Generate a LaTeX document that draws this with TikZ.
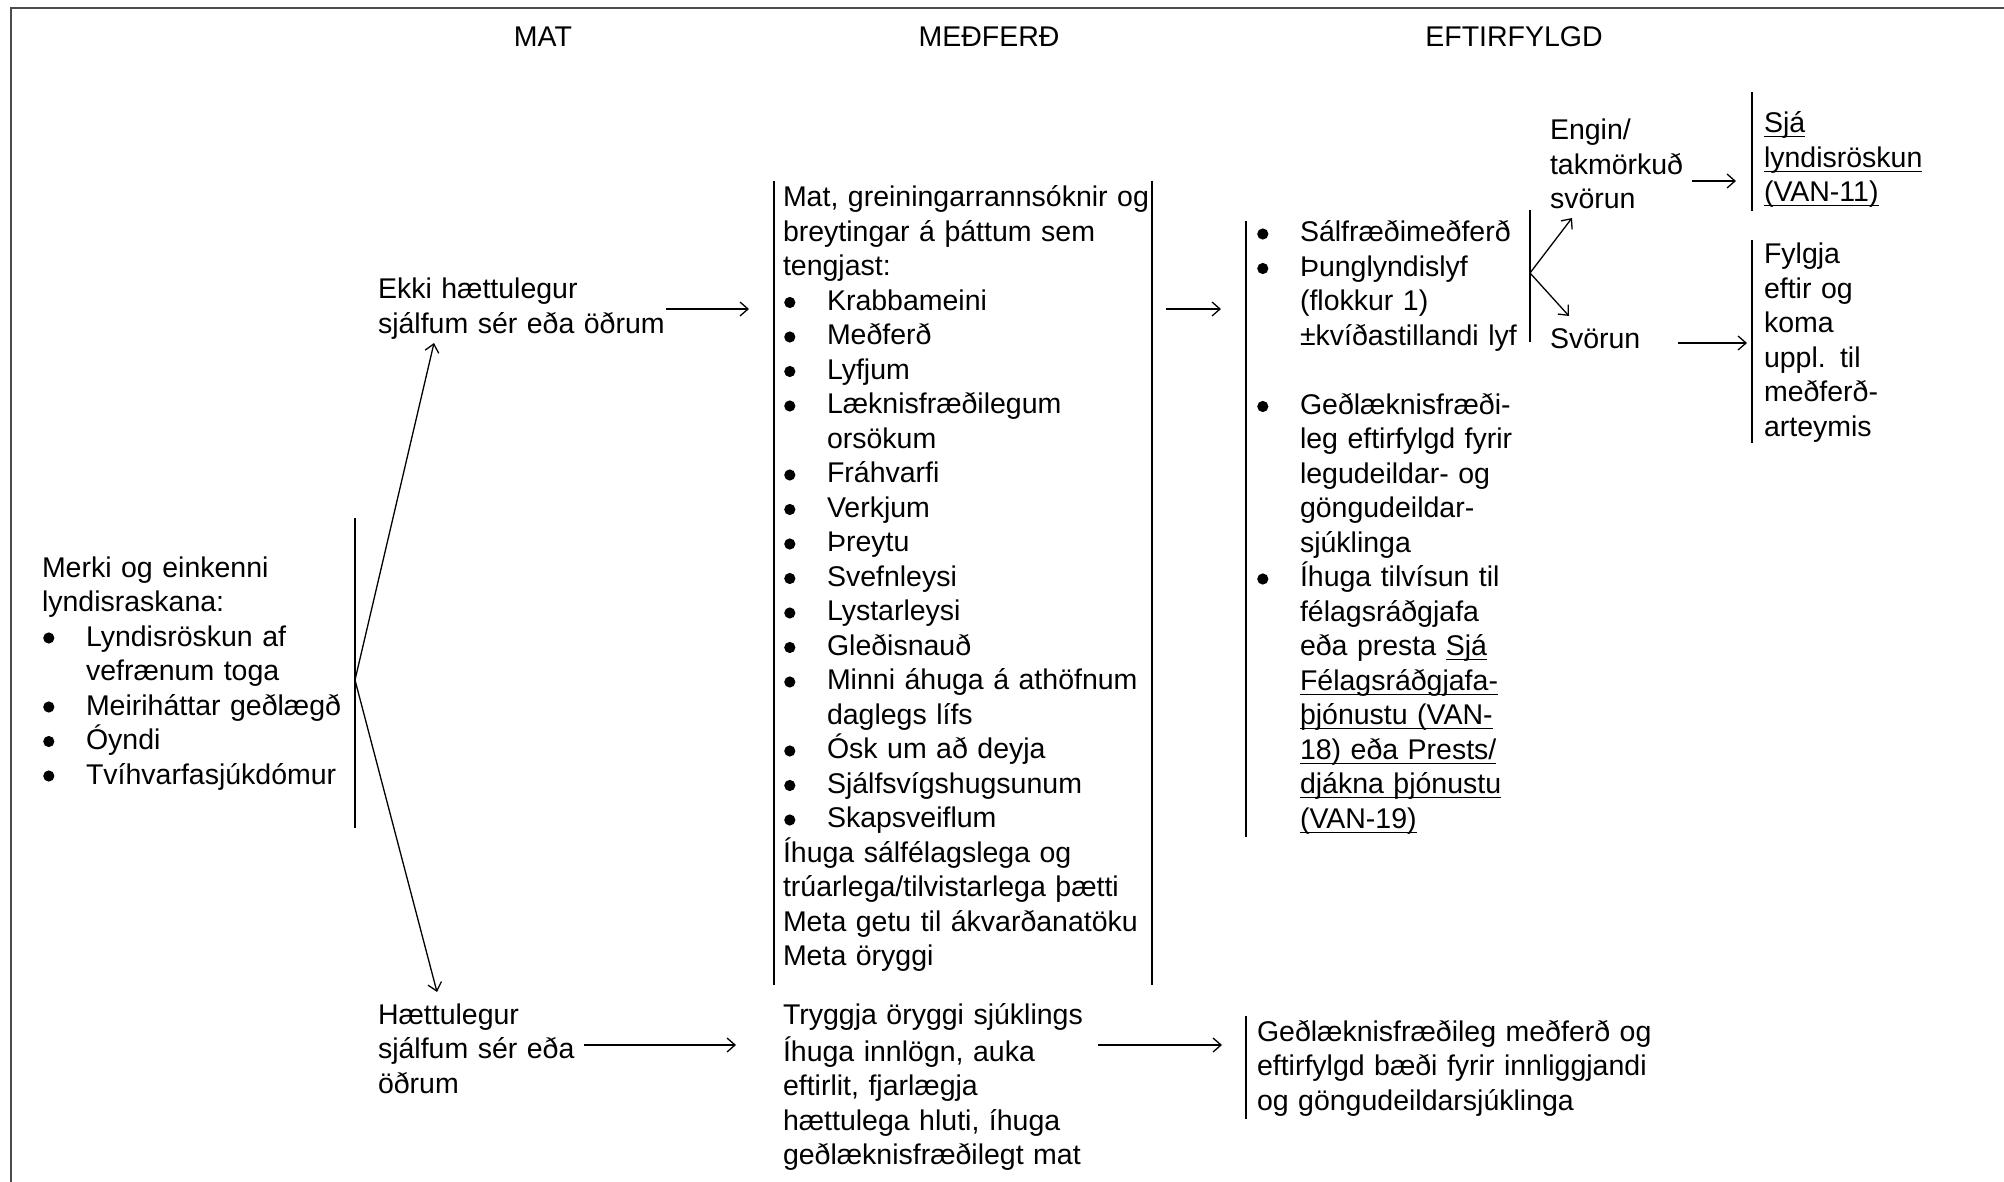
\documentclass[tikz,border=0pt]{standalone}
\usepackage{fontspec}
\setmainfont{Liberation Sans}
\usetikzlibrary{arrows.meta}
% round list bullet, drawn at a fixed size and height
\newcommand\bdot{\tikz[baseline=0pt]{\useasboundingbox (0pt,0pt) rectangle (6pt,0pt);
  \fill (3.4pt,4pt) circle[radius=2.8pt];}}
% bullet item with hanging indent, and its continuation line
\newcommand\bitem[1]{\makebox[22pt][l]{\bdot}#1}
\newcommand\bcont[1]{\hspace*{22pt}#1}
% underlined link text, rule at a fixed depth below the baseline
\newsavebox\ulbox
\newcommand\uln[1]{\leavevmode\sbox\ulbox{#1}\rlap{\rule[-2.2pt]{\wd\ulbox}{0.65pt}}\usebox\ulbox}
\begin{document}
\begin{tikzpicture}[x=0.5pt,y=-0.5pt,
  font=\fontsize{14.25pt}{17.25pt}\selectfont,
  blk/.style={anchor=north west,inner sep=0pt,outer sep=0pt,align=left,
    text width=230pt,yshift=12.075pt,execute at begin node={\noindent\strut}},
  hdr/.style={anchor=base,inner sep=0pt},
  bar/.style={line width=0.75pt},
  frame/.style={line width=1pt,black!70},
  arr/.style={line width=0.65pt,-{Straight Barb[length=4pt,width=7pt]}},
]
\useasboundingbox (0,0) rectangle (2004,1182);

% page frame
\draw[frame] (11,1182) -- (11,8) -- (2004,8);

% column headings
\node[hdr] (hmat) at (543,47) {MAT};
\node[hdr] (hmed) at (989,47) {MEÐFERÐ};
\node[hdr] (heft) at (1514,47) {EFTIRFYLGD};

% assessment
\node[blk] (merki) at (42,577) {Merki og einkenni\\
lyndisraskana:\\
\bitem{Lyndisröskun af}\\
\bcont{vefrænum toga}\\
\bitem{Meiriháttar geðlægð}\\
\bitem{Óyndi}\\
\bitem{Tvíhvarfasjúkdómur}};
\draw[bar] (355,518) -- (355,828);

\node[blk] (ekki) at (378,299) {Ekki hættulegur\\ sjálfum sér eða öðrum};
\node[blk] (haett) at (378,1024) {Hættulegur\\ sjálfum sér eða\\ öðrum};

% treatment
\node[blk] (medA) at (783,207) {Mat, greiningarrannsóknir og\\
breytingar á þáttum sem\\
tengjast:\\
\bitem{Krabbameini}\\
\bitem{Meðferð}\\
\bitem{Lyfjum}\\
\bitem{Læknisfræðilegum}\\
\bcont{orsökum}\\
\bitem{Fráhvarfi}\\
\bitem{Verkjum}\\
\bitem{Þreytu}\\
\bitem{Svefnleysi}\\
\bitem{Lystarleysi}\\
\bitem{Gleðisnauð}\\
\bitem{Minni áhuga á athöfnum}\\
\bcont{daglegs lífs}\\
\bitem{Ósk um að deyja}\\
\bitem{Sjálfsvígshugsunum}\\
\bitem{Skapsveiflum}\\
Íhuga sálfélagslega og\\
trúarlega/tilvistarlega þætti\\
Meta getu til ákvarðanatöku\\
Meta öryggi};
\draw[bar] (774,181) -- (774,985);
\draw[bar] (1152,181) -- (1152,985);

\node[blk] (medB) at (783,1024) {Tryggja öryggi sjúklings\\
Íhuga innlögn, auka\\
eftirlit, fjarlægja\\
hættulega hluti, íhuga\\
geðlæknisfræðilegt mat};

% follow-up
\node[blk] (eftA) at (1256,242) {\bitem{Sálfræðimeðferð}\\
\bitem{Þunglyndislyf}\\
\bcont{(flokkur 1)}\\
\bcont{±kvíðastillandi lyf}\\[17.25pt]
\bitem{Geðlæknisfræði-}\\
\bcont{leg eftirfylgd fyrir}\\
\bcont{legudeildar- og}\\
\bcont{göngudeildar-}\\
\bcont{sjúklinga}\\
\bitem{Íhuga tilvísun til}\\
\bcont{félagsráðgjafa}\\
\bcont{eða presta \uln{Sjá}}\\
\bcont{\uln{Félagsráðgjafa-}}\\
\bcont{\uln{þjónustu (VAN-}}\\
\bcont{\uln{18) eða Prests/}}\\
\bcont{\uln{djákna þjónustu}}\\
\bcont{\uln{(VAN-19)}}};
\draw[bar] (1246,221) -- (1246,837);
\draw[bar] (1530,210) -- (1530,342);

\node[blk] (engin) at (1550,140) {Engin/\\ takmörkuð\\ svörun};
\node[blk] (svor) at (1550,349) {Svörun};

\node[blk] (sja) at (1764,133) {\uln{Sjá}\\ \uln{lyndisröskun}\\ \uln{(VAN-11)}};
\draw[bar] (1752,92) -- (1752,211);
\node[blk] (fylg) at (1764,264) {Fylgja\\ eftir og\\ koma\\ uppl. til\\ meðferð-\\ arteymis};
\draw[bar] (1752,240) -- (1752,443);

\node[blk] (eftB) at (1257,1041) {Geðlæknisfræðileg meðferð og\\
eftirfylgd bæði fyrir innliggjandi\\
og göngudeildarsjúklinga};
\draw[bar] (1246,1016) -- (1246,1119);

% connector end points
\coordinate (merki-v) at (355,680);
\coordinate (ekki-in) at (434,343);
\coordinate (haett-in) at (437,992);
\coordinate (ekki-out) at (666,309);
\coordinate (medA-in) at (749,309);
\coordinate (medA-out) at (1166,309);
\coordinate (eftA-in) at (1221,309);
\coordinate (eftA-v) at (1530,273);
\coordinate (engin-in) at (1572,218);
\coordinate (svor-in) at (1569,316);
\coordinate (engin-out) at (1692,181);
\coordinate (sja-in) at (1736,181);
\coordinate (svor-out) at (1678,343);
\coordinate (fylg-in) at (1747,343);
\coordinate (haett-out) at (584,1045);
\coordinate (medB-in) at (736,1045);
\coordinate (medB-out) at (1098,1045);
\coordinate (eftB-in) at (1222,1045);

% connectors
\draw[arr] (merki-v) -- (ekki-in);
\draw[arr] (merki-v) -- (haett-in);
\draw[arr] (ekki-out) -- (medA-in);
\draw[arr] (medA-out) -- (eftA-in);
\draw[arr] (eftA-v) -- (engin-in);
\draw[arr] (eftA-v) -- (svor-in);
\draw[arr] (engin-out) -- (sja-in);
\draw[arr] (svor-out) -- (fylg-in);
\draw[arr] (haett-out) -- (medB-in);
\draw[arr] (medB-out) -- (eftB-in);
\end{tikzpicture}
\end{document}
